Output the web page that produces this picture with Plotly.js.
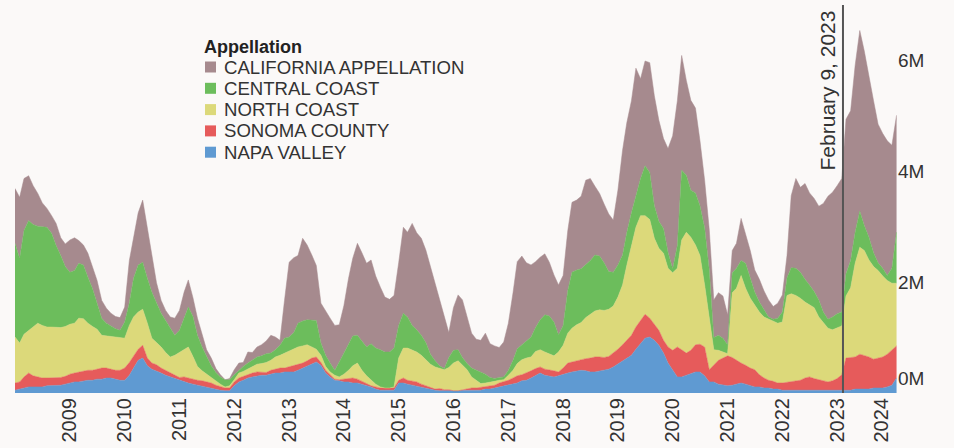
<!DOCTYPE html>
<html>
<head>
<meta charset="utf-8">
<script src="https://cdn.plot.ly/plotly-3.0.1.min.js"></script>
<style>html,body{margin:0;padding:0;background:#fbf9f8;}#chart{width:954px;height:448px;}</style>
</head>
<body>
<div id="chart"></div>
<script>
// Monthly series, values in millions, first month = January 2008
const startYear = 2008;
const seriesNames = ['NAPA VALLEY', 'SONOMA COUNTY', 'NORTH COAST', 'CENTRAL COAST', 'CALIFORNIA APPELLATION'];

const napaValley = [
0.05,0.07,0.09,0.11,0.11,0.11,0.11,0.13,0.13,0.14,
0.14,0.16,0.18,0.20,0.20,0.22,0.23,0.23,0.25,0.25,
0.27,0.27,0.25,0.23,0.23,0.32,0.45,0.59,0.63,0.49,
0.43,0.40,0.36,0.32,0.29,0.27,0.23,0.20,0.18,0.16,
0.14,0.13,0.11,0.09,0.07,0.05,0.04,0.04,0.13,0.20,
0.23,0.27,0.29,0.31,0.32,0.32,0.34,0.36,0.36,0.38,
0.38,0.38,0.41,0.45,0.49,0.52,0.56,0.50,0.36,0.29,
0.23,0.22,0.20,0.20,0.18,0.18,0.16,0.13,0.11,0.07,
0.05,0.05,0.05,0.05,0.18,0.18,0.16,0.14,0.13,0.11,
0.09,0.07,0.05,0.04,0.04,0.04,0.04,0.04,0.04,0.04,
0.05,0.05,0.05,0.07,0.07,0.09,0.11,0.13,0.14,0.16,
0.18,0.22,0.23,0.27,0.31,0.36,0.32,0.31,0.29,0.31,
0.34,0.36,0.38,0.40,0.41,0.40,0.38,0.38,0.40,0.41,
0.43,0.47,0.52,0.58,0.63,0.68,0.79,0.90,0.99,1.01,
0.95,0.86,0.72,0.54,0.41,0.29,0.29,0.32,0.36,0.38,
0.38,0.31,0.20,0.20,0.16,0.14,0.13,0.14,0.16,0.18,
0.16,0.13,0.11,0.11,0.09,0.09,0.07,0.07,0.05,0.05,
0.05,0.05,0.05,0.05,0.04,0.04,0.04,0.04,0.04,0.04,
0.04,0.04,0.04,0.05,0.07,0.07,0.07,0.07,0.09,0.09,
0.09,0.11,0.14,0.27];

const sonomaCounty = [
0.13,0.13,0.20,0.25,0.20,0.18,0.16,0.14,0.14,0.14,
0.14,0.14,0.16,0.16,0.18,0.18,0.18,0.18,0.18,0.20,
0.18,0.16,0.16,0.18,0.22,0.23,0.22,0.20,0.23,0.14,
0.11,0.11,0.09,0.09,0.07,0.05,0.05,0.09,0.09,0.09,
0.09,0.09,0.09,0.09,0.07,0.07,0.05,0.05,0.07,0.07,
0.07,0.07,0.07,0.07,0.05,0.05,0.07,0.07,0.09,0.07,
0.09,0.11,0.11,0.09,0.09,0.11,0.09,0.05,0.05,0.04,
0.02,0.02,0.05,0.07,0.09,0.07,0.05,0.04,0.02,0.04,
0.04,0.04,0.04,0.04,0.05,0.09,0.07,0.07,0.07,0.05,
0.04,0.02,0.02,0.04,0.02,0.02,0.00,0.00,0.02,0.04,
0.04,0.04,0.05,0.04,0.05,0.05,0.07,0.07,0.09,0.11,
0.13,0.11,0.13,0.13,0.13,0.11,0.11,0.11,0.11,0.07,
0.11,0.18,0.18,0.18,0.18,0.22,0.25,0.27,0.25,0.23,
0.23,0.25,0.27,0.29,0.32,0.36,0.40,0.41,0.43,0.34,
0.29,0.27,0.23,0.29,0.36,0.54,0.49,0.40,0.41,0.49,
0.50,0.52,0.22,0.31,0.43,0.49,0.54,0.50,0.43,0.36,
0.34,0.32,0.31,0.22,0.18,0.14,0.14,0.11,0.13,0.14,
0.16,0.16,0.18,0.22,0.25,0.22,0.20,0.18,0.16,0.18,
0.22,0.29,0.59,0.59,0.58,0.63,0.61,0.58,0.52,0.54,
0.56,0.59,0.63,0.58];

const northCoast = [
0.83,0.70,0.77,0.77,0.88,0.97,0.95,0.92,0.92,0.90,
0.90,0.90,0.90,0.90,0.97,0.94,0.85,0.79,0.72,0.59,
0.58,0.58,0.59,0.58,0.54,0.67,0.70,0.67,0.65,0.63,
0.45,0.40,0.38,0.32,0.29,0.36,0.45,0.50,0.56,0.41,
0.25,0.18,0.14,0.09,0.07,0.04,0.02,0.04,0.04,0.09,
0.09,0.09,0.11,0.14,0.16,0.18,0.18,0.22,0.23,0.27,
0.29,0.31,0.31,0.31,0.29,0.20,0.14,0.13,0.07,0.05,
0.07,0.05,0.09,0.14,0.22,0.29,0.20,0.14,0.11,0.05,
0.02,0.00,0.00,0.02,0.40,0.54,0.58,0.56,0.54,0.52,
0.47,0.43,0.40,0.36,0.36,0.40,0.50,0.54,0.45,0.34,
0.20,0.14,0.07,0.07,0.07,0.07,0.05,0.04,0.09,0.14,
0.22,0.27,0.27,0.25,0.31,0.31,0.31,0.29,0.27,0.36,
0.41,0.54,0.61,0.65,0.68,0.74,0.79,0.83,0.85,0.85,
0.85,0.85,0.94,1.08,1.35,1.62,1.80,1.89,1.78,1.78,
1.55,1.48,1.57,1.42,1.40,1.42,1.98,2.18,2.04,1.80,
1.60,1.12,0.90,0.27,0.18,0.11,0.04,1.17,1.30,1.58,
1.39,1.26,1.17,1.13,1.10,1.10,1.08,1.08,1.10,1.57,
1.58,1.55,1.48,1.37,1.30,1.28,1.13,1.06,0.97,0.92,
0.92,0.88,1.12,1.26,1.69,1.93,1.89,1.75,1.67,1.58,
1.46,1.33,1.21,1.13];

const centralCoast = [
1.69,1.53,1.87,1.98,1.85,1.75,1.78,1.80,1.69,1.48,
1.30,1.08,0.94,0.95,0.99,0.97,0.83,0.68,0.47,0.31,
0.23,0.20,0.16,0.14,0.29,0.41,0.70,0.85,0.85,0.81,
0.83,0.72,0.61,0.58,0.52,0.36,0.40,0.56,0.72,0.72,
0.56,0.43,0.31,0.22,0.16,0.13,0.13,0.11,0.09,0.05,
0.09,0.11,0.13,0.13,0.14,0.16,0.13,0.13,0.18,0.27,
0.25,0.29,0.43,0.45,0.45,0.49,0.52,0.22,0.20,0.16,
0.09,0.27,0.38,0.49,0.54,0.50,0.52,0.52,0.65,0.65,
0.67,0.65,0.65,0.70,0.59,0.63,0.56,0.45,0.40,0.36,
0.31,0.18,0.11,0.05,0.02,0.18,0.23,0.20,0.13,0.11,
0.16,0.18,0.20,0.16,0.09,0.05,0.05,0.05,0.09,0.18,
0.27,0.27,0.32,0.36,0.43,0.54,0.67,0.68,0.61,0.31,
0.36,0.77,1.01,0.99,0.97,0.95,0.97,1.01,0.97,0.86,
0.68,0.61,0.58,0.54,0.59,0.59,0.58,0.67,0.90,0.85,
0.59,0.49,0.45,0.29,0.07,0.41,1.26,1.03,0.85,0.94,
0.90,1.03,0.90,0.22,0.27,0.25,0.16,0.36,0.36,0.27,
0.45,0.36,0.23,0.18,0.13,0.04,0.04,0.09,0.18,0.32,
0.47,0.49,0.47,0.41,0.36,0.29,0.31,0.18,0.16,0.23,
0.25,0.25,0.40,0.49,0.56,0.65,0.45,0.41,0.25,0.14,
0.14,0.09,0.27,0.92];

const californiaAppellation = [
0.99,1.10,0.94,0.81,0.70,0.59,0.43,0.34,0.32,0.40,
0.32,0.41,0.58,0.59,0.41,0.36,0.43,0.38,0.41,0.32,
0.27,0.23,0.22,0.23,0.27,0.76,0.74,0.94,1.12,0.92,
0.63,0.36,0.23,0.18,0.20,0.31,0.36,0.47,0.49,0.34,
0.31,0.22,0.13,0.14,0.07,0.04,0.00,0.02,0.09,0.13,
0.07,0.20,0.13,0.18,0.20,0.23,0.32,0.23,0.09,0.68,
1.35,1.35,1.22,1.49,1.35,1.17,0.99,0.72,0.79,0.81,
0.81,0.67,0.86,1.17,1.40,1.66,1.60,1.51,1.51,1.30,
1.13,0.99,0.95,0.95,1.13,1.55,1.53,1.84,1.75,1.75,
1.67,1.58,1.40,1.19,0.94,0.45,0.77,0.99,1.04,0.86,
0.63,0.56,0.58,0.74,0.61,0.59,0.54,0.63,0.85,1.22,
1.57,1.60,1.40,1.30,1.19,1.13,1.10,0.97,0.85,0.90,
0.90,1.08,1.26,1.26,1.31,1.53,1.48,1.24,1.13,1.06,
1.04,0.94,1.35,1.89,1.98,2.02,2.29,1.80,1.89,1.98,
1.98,1.82,1.62,1.87,2.40,2.61,2.07,1.71,1.62,1.53,
1.17,0.86,0.72,0.68,0.77,0.76,0.54,0.40,0.45,0.76,
0.54,0.50,0.40,0.41,0.34,0.31,0.23,0.27,0.31,0.40,
1.30,1.62,1.53,1.73,1.66,1.68,1.69,1.96,2.22,2.25,
2.31,2.41,2.79,2.70,3.01,3.26,3.15,2.88,2.74,2.50,
2.43,2.43,2.22,2.11];

const tickDates = ['2009-01-01','2010-01-01','2011-01-01','2012-01-01','2013-01-01','2014-01-01','2015-01-01','2016-01-01','2017-01-01','2018-01-01','2019-01-01','2020-01-01','2021-01-01','2022-01-01','2023-01-01','2023-10-25'];
const tickText = ['2009','2010','2011','2012','2013','2014','2015','2016','2017','2018','2019','2020','2021','2022','2023','2024'];
const yTickVals = [2, 4, 6];
const yTickText = ['2M', '4M', '6M'];
const yBaseTickVals = [0];
const yBaseTickText = ['0M'];
const markerDate = '2023-02-09';
const markerLabel = 'February 9, 2023';
const legendTitle = 'Appellation';

const seriesValues = [napaValley, sonomaCounty, northCoast, centralCoast, californiaAppellation];
const seriesColors = ['#5f9ad2', '#e65b5b', '#dcd97a', '#6cbd5c', '#a68a8e'];

const months = [];
for (let i = 0; i < napaValley.length; i++) {
  const yy = startYear + Math.floor(i / 12);
  const mm = (i % 12) + 1;
  months.push(yy + '-' + String(mm).padStart(2, '0') + '-01');
}

const traces = seriesValues.map((vals, k) => ({
  type: 'scatter',
  mode: 'lines',
  x: months,
  y: vals,
  name: seriesNames[k],
  stackgroup: 'one',
  line: {width: 0.5, color: seriesColors[k], shape: 'linear'},
  fillcolor: seriesColors[k],
  hoverinfo: 'x+y+name'
}));
// empty trace so the overlaid baseline-label axis is drawn
traces.push({type: 'scatter', mode: 'lines', x: [], y: [], yaxis: 'y2', showlegend: false, hoverinfo: 'skip'});

// plot geometry (pixels) for the hand-built legend
const W = 954, H = 448;
const M = {l: 15, r: 57, t: 5, b: 55};
const PW = W - M.l - M.r, PH = H - M.t - M.b;
const px = x => (x - M.l) / PW;
const py = y => (H - M.b - y) / PH;

const shapes = [{
  type: 'line', xref: 'x', yref: 'paper',
  x0: markerDate, x1: markerDate, y0: 0, y1: 1,
  line: {color: '#555555', width: 2}
}];
const annotations = [{
  text: markerLabel, xref: 'x', yref: 'paper', x: markerDate, y: 1,
  xanchor: 'right', yanchor: 'top', textangle: -90, showarrow: false,
  xshift: -2, yshift: -3,
  font: {family: 'Liberation Sans, Arial, sans-serif', size: 21, color: '#333333'}
}, {
  text: '<b>' + legendTitle + '</b>', xref: 'paper', yref: 'paper',
  x: px(202), y: py(47), xanchor: 'left', yanchor: 'middle', showarrow: false,
  font: {family: 'Liberation Sans, Arial, sans-serif', size: 18, color: '#222222'}
}];

// legend rows, top to bottom: reverse of stacking order
const legendOrder = [4, 3, 2, 1, 0];
legendOrder.forEach((k, r) => {
  const cy = 67 + r * 21.3;
  shapes.push({
    type: 'rect', xref: 'paper', yref: 'paper',
    x0: px(205), x1: px(216), y0: py(cy + 5.5), y1: py(cy - 5.5),
    fillcolor: seriesColors[k], line: {width: 0}
  });
  annotations.push({
    text: seriesNames[k], xref: 'paper', yref: 'paper',
    x: px(222), y: py(cy), xanchor: 'left', yanchor: 'middle', showarrow: false,
    font: {family: 'Liberation Sans, Arial, sans-serif', size: 18.6, color: '#333333'}
  });
});

const yCommon = {
  side: 'right', range: [0, 7.0],
  tickmode: 'array', ticks: '', showgrid: false, zeroline: false, showline: false,
  tickfont: {size: 19, color: '#333333'}
};

const layout = {
  width: W, height: H,
  margin: M,
  paper_bgcolor: '#fbf9f8',
  plot_bgcolor: '#fbf9f8',
  showlegend: false,
  font: {family: 'Liberation Sans, Arial, sans-serif', color: '#333333'},
  xaxis: {
    type: 'date',
    range: ['2008-01-01', '2024-02-04'],
    tickmode: 'array', tickvals: tickDates, ticktext: tickText,
    tickangle: -90, ticks: '', showgrid: false, zeroline: false, showline: false,
    tickfont: {size: 20, color: '#333333'}
  },
  yaxis: Object.assign({}, yCommon, {tickvals: yTickVals, ticktext: yTickText}),
  yaxis2: Object.assign({}, yCommon, {overlaying: 'y', tickvals: yBaseTickVals, ticktext: yBaseTickText, ticklabelshift: -15}),
  shapes: shapes,
  annotations: annotations
};

Plotly.newPlot('chart', traces, layout, {displayModeBar: false, staticPlot: true});
</script>
</body>
</html>
